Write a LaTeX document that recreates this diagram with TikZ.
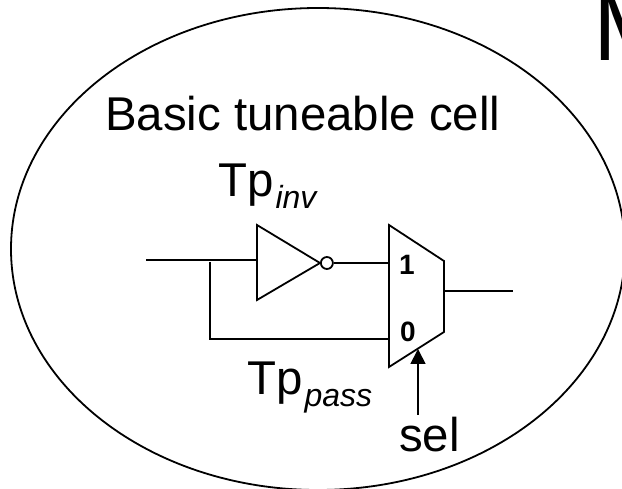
\documentclass[tikz,border=0pt]{standalone}
\usepackage{fontspec}
\setmainfont{Liberation Sans}
\usetikzlibrary{positioning, arrows.meta, shapes.geometric}
\newcommand{\subtext}[1]{\kern2pt\raisebox{-12pt}{\fontsize{32}{36}\selectfont\itshape #1}}
\tikzset{
    wire/.style={line width=1.8pt},
    biglabel/.style={inner sep=0pt, anchor=base west, font=\fontsize{47.4}{56}\selectfont},
    pinlabel/.style={inner sep=0pt, font=\fontsize{28}{32}\selectfont\bfseries}
}

\begin{document}
\begin{tikzpicture}[x=1pt, y=-1pt]
\useasboundingbox (0,0) rectangle (622,489);
\clip (0,0) rectangle (622,489);

% Outline of the cell
\node[draw, wire, ellipse, minimum width=614pt, minimum height=482pt, inner sep=0pt] (cell) at (318,249) {};
\node[inner sep=0pt, anchor=base west, font=\fontsize{96}{98}\selectfont] (title) at (593,61) {M};
\node[biglabel] (celllabel) at (105,131) {Basic tuneable cell};

% Inverter
\coordinate (invtop) at (257,225);
\coordinate (invbot) at (257,300);
\coordinate (invtip) at (320,263);
\draw[wire] (invtop) -- (invtip) -- (invbot) -- cycle;
\node[draw, wire, circle, minimum size=12pt, inner sep=0pt, right=0pt of invtip] (bubble) {};
\node[biglabel] (tpinv) at (218,197) {Tp\subtext{inv}};

% Mux
\coordinate (muxa) at (389,225);
\coordinate (muxb) at (444,261);
\coordinate (muxc) at (444,332);
\coordinate (muxd) at (389,367);
\draw[wire] (muxa) -- (muxb) -- (muxc) -- (muxd) -- cycle;
\node[pinlabel] (pinone) at (407,265) {1};
\node[pinlabel] (pinzero) at (408,332) {0};

% Wires
\coordinate (in) at (146,260);
\coordinate (invin) at (257,260);
\coordinate (branch) at (210,262);
\coordinate (corner) at (210,339);
\coordinate (muxzero) at (389,339);
\coordinate (muxone) at (389,263);
\coordinate (outa) at (444,291);
\coordinate (outb) at (513,291);
\draw[wire] (in) -- (invin);
\draw[wire] (bubble) -- (muxone);
\draw[wire] (branch) -- (corner) -- (muxzero);
\draw[wire] (outa) -- (outb);

% Select line
\coordinate (selstart) at (418,415);
\coordinate (seltip) at (418,349);
\draw[wire, -{Triangle[length=15pt, width=15pt]}] (selstart) -- (seltip);
\node[biglabel] (sel) at (399,452) {sel};
\node[biglabel] (tppass) at (247,395) {Tp\subtext{pass}};

\end{tikzpicture}
\end{document}
